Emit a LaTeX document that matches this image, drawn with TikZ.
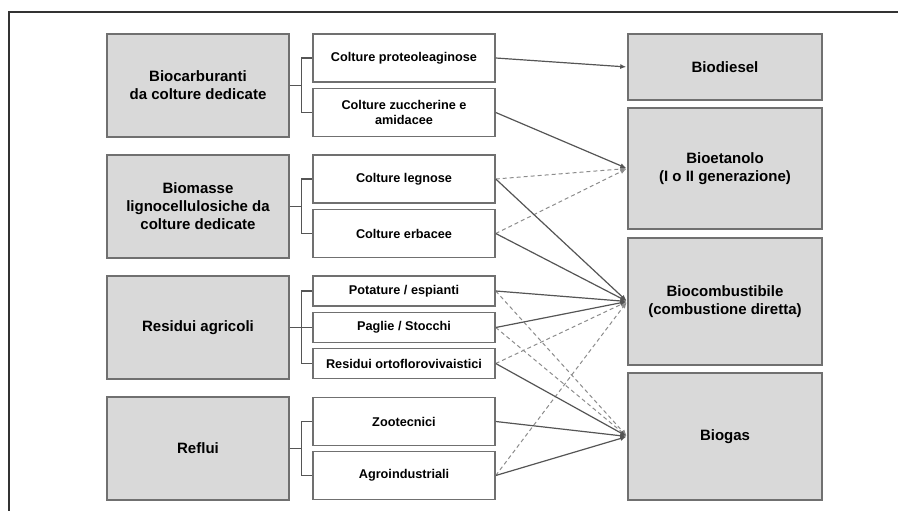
\documentclass[tikz,border=0pt]{standalone}
\usepackage{fontspec}
\setmainfont{Liberation Sans}
\usetikzlibrary{arrows.meta}
\definecolor{boxfill}{HTML}{D9D9D9}
\definecolor{boxline}{HTML}{707070}
\definecolor{linecol}{HTML}{555555}
\definecolor{dashcol}{HTML}{8C8C8C}
\definecolor{framecol}{HTML}{333333}
\begin{document}
\begin{tikzpicture}[x=1pt, y=-1pt]
  \tikzstyle{group}=[rectangle, draw=boxline, fill=boxfill, line width=1.5pt, minimum width=182pt, minimum height=103pt, inner sep=0pt, align=center, text=black, font=\fontsize{15}{18}\selectfont\bfseries]
  \tikzstyle{source}=[rectangle, draw=boxline, fill=white, line width=1.5pt, minimum width=182pt, minimum height=48pt, inner sep=0pt, align=center, text=black, font=\fontsize{12.7}{15}\selectfont\bfseries]
  \tikzstyle{product}=[group, minimum width=194pt]
  \tikzstyle{branch}=[draw=linecol, line width=1.2pt]
  \tikzstyle{flow}=[-{Latex[length=6pt, width=5pt]}, draw=linecol, line width=1.2pt, shorten >= 1pt]
  \tikzstyle{alt}=[flow, draw=dashcol, line width=1pt, dash pattern=on 4pt off 3pt]

  \useasboundingbox (0,0) rectangle (898,511);
  \draw[framecol, line width=1.5pt] (9,511) -- (9,12) -- (898,12);

  \node[group] (g1) at (198, 85.5)  {Biocarburanti\\da colture dedicate};
  \node[group] (g2) at (198, 206.5) {Biomasse\\lignocellulosiche da\\colture dedicate};
  \node[group] (g3) at (198, 327.5) {Residui agricoli};
  \node[group] (g4) at (198, 448.5) {Reflui};

  \node[source] (s1) at (404, 58)    {Colture proteoleaginose};
  \node[source] (s2) at (404, 112.5) {Colture zuccherine e\\amidacee};
  \node[source] (s3) at (404, 179)   {Colture legnose};
  \node[source] (s4) at (404, 233.5) {Colture erbacee};
  \node[source, minimum height=30pt] (s5) at (404, 291)   {Potature / espianti};
  \node[source, minimum height=30pt] (s6) at (404, 327.5) {Paglie / Stocchi};
  \node[source, minimum height=30pt] (s7) at (404, 363.5) {Residui ortoflorovivaistici};
  \node[source] (s8) at (404, 421.5) {Zootecnici};
  \node[source] (s9) at (404, 475.5) {Agroindustriali};

  \node[product, minimum height=66pt]  (p1) at (725, 67)    {Biodiesel};
  \node[product, minimum height=121pt] (p2) at (725, 168.5) {Bioetanolo\\(I o II generazione)};
  \node[product, minimum height=127pt] (p3) at (725, 301.5) {Biocombustibile\\(combustione diretta)};
  \node[product, minimum height=127pt] (p4) at (725, 436.5) {Biogas};

  \draw[branch] (g1.east) -- ++(12,0) |- (s1.west);
  \draw[branch] (g1.east) -- ++(12,0) |- (s2.west);
  \draw[branch] (g2.east) -- ++(12,0) |- (s3.west);
  \draw[branch] (g2.east) -- ++(12,0) |- (s4.west);
  \draw[branch] (g3.east) -- ++(12,0) |- (s5.west);
  \draw[branch] (g3.east) -- ++(12,0) |- (s6.west);
  \draw[branch] (g3.east) -- ++(12,0) |- (s7.west);
  \draw[branch] (g4.east) -- ++(12,0) |- (s8.west);
  \draw[branch] (g4.east) -- ++(12,0) |- (s9.west);

  \draw[alt] (s3.east) -- (p2.west);
  \draw[alt] (s4.east) -- (p2.west);
  \draw[alt] (s5.east) -- (p4.west);
  \draw[alt] (s6.east) -- (p4.west);
  \draw[alt] (s7.east) -- (p3.west);
  \draw[alt] (s9.east) -- (p3.west);

  \draw[flow] (s1.east) -- (p1.west);
  \draw[flow] (s2.east) -- (p2.west);
  \draw[flow] (s3.east) -- (p3.west);
  \draw[flow] (s4.east) -- (p3.west);
  \draw[flow] (s5.east) -- (p3.west);
  \draw[flow] (s6.east) -- (p3.west);
  \draw[flow] (s7.east) -- (p4.west);
  \draw[flow] (s8.east) -- (p4.west);
  \draw[flow] (s9.east) -- (p4.west);
\end{tikzpicture}
\end{document}
